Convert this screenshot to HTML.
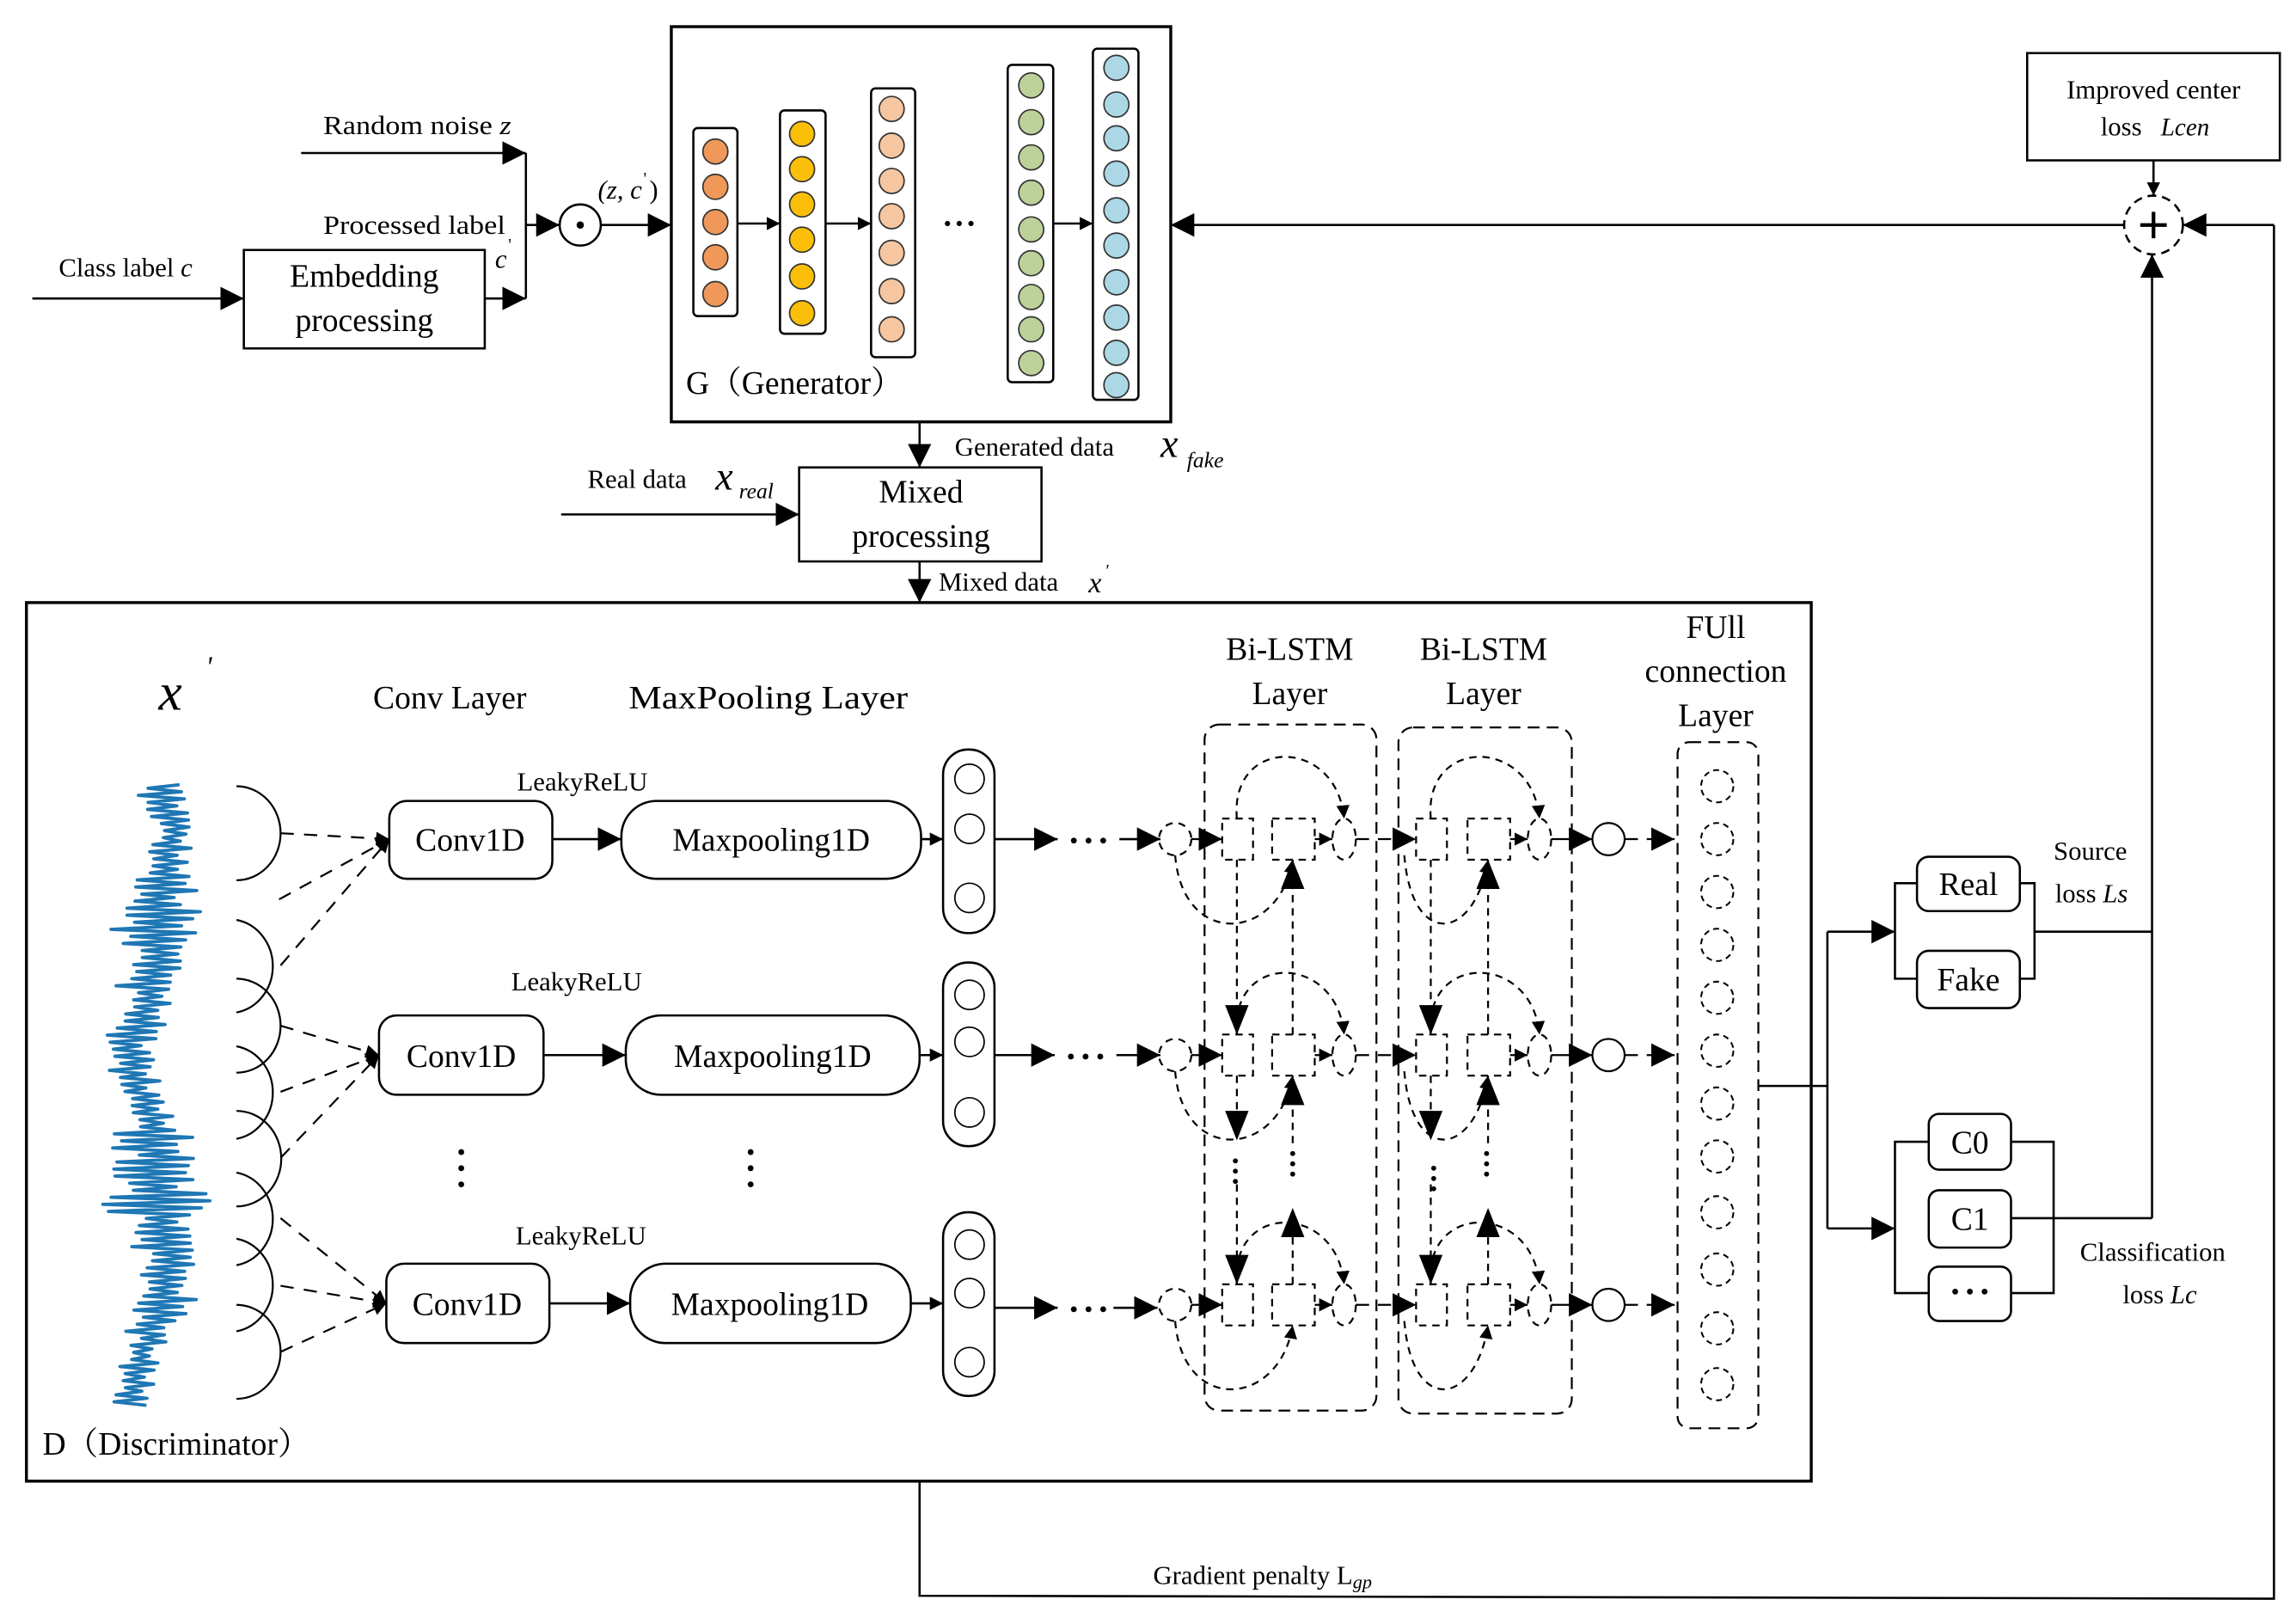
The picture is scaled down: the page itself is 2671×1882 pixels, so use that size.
<!DOCTYPE html>
<html><head><meta charset="utf-8"><style>
html,body{margin:0;padding:0;background:#fff}
svg{display:block}
text{font-family:"Liberation Serif","Noto Serif CJK SC",serif;fill:#000}
</style></head><body>
<svg width="2671" height="1882" viewBox="0 0 1563 1101" xmlns="http://www.w3.org/2000/svg">
<defs>
<marker id="a" viewBox="0 0 10 10" refX="10" refY="5" markerWidth="9" markerHeight="9" markerUnits="userSpaceOnUse" orient="auto"><path d="M0,0L10,5L0,10z" fill="#000"/></marker>
<marker id="b" viewBox="0 0 10 10" refX="10" refY="5" markerWidth="16" markerHeight="16" markerUnits="userSpaceOnUse" orient="auto"><path d="M0,0L10,5L0,10z" fill="#000"/></marker>
<marker id="c" viewBox="0 0 10 10" refX="10" refY="5" markerWidth="20" markerHeight="20" markerUnits="userSpaceOnUse" orient="auto"><path d="M0,1L10,5L0,9z" fill="#000"/></marker>
</defs>
<g fill="none" stroke="#000" stroke-width="1.5">
<line x1="205" y1="104" x2="358" y2="104" marker-end="url(#b)"/>
<line x1="358" y1="104" x2="358" y2="203"/>
<line x1="22" y1="203" x2="166" y2="203" marker-end="url(#b)"/>
<rect x="166" y="170" width="164" height="67"/>
<line x1="330" y1="203" x2="358" y2="203" marker-end="url(#b)"/>
<line x1="358" y1="153" x2="381" y2="153" marker-end="url(#b)"/>
<circle cx="395" cy="153" r="14"/>
<line x1="409" y1="153" x2="457" y2="153" marker-end="url(#b)"/>
<rect x="457" y="18" width="340" height="269" stroke-width="2"/>
<rect x="472" y="87" width="30" height="128" rx="3"/>
<rect x="531" y="75" width="31" height="152" rx="3"/>
<rect x="593" y="60" width="30" height="183" rx="3"/>
<rect x="686" y="44" width="31" height="216" rx="3"/>
<rect x="744" y="33" width="31" height="239" rx="3"/>
<line x1="502" y1="152" x2="531" y2="152" marker-end="url(#a)"/>
<line x1="562" y1="152" x2="593" y2="152" marker-end="url(#a)"/>
<line x1="717" y1="152" x2="744" y2="152" marker-end="url(#a)"/>
</g>
<g stroke="#333" stroke-width="1">
<g fill="#f0985a"><circle cx="487" cy="103" r="8.5"/><circle cx="487" cy="127" r="8.5"/><circle cx="487" cy="151" r="8.5"/><circle cx="487" cy="175" r="8.5"/><circle cx="487" cy="200" r="8.5"/></g>
<g fill="#fbbf0a"><circle cx="546" cy="91" r="8.5"/><circle cx="546" cy="115" r="8.5"/><circle cx="546" cy="139" r="8.5"/><circle cx="546" cy="163" r="8.5"/><circle cx="546" cy="188" r="8.5"/><circle cx="546" cy="213" r="8.5"/></g>
<g fill="#f6c6a0"><circle cx="607" cy="74" r="8.5"/><circle cx="607" cy="99" r="8.5"/><circle cx="607" cy="123" r="8.5"/><circle cx="607" cy="147" r="8.5"/><circle cx="607" cy="172" r="8.5"/><circle cx="607" cy="198" r="8.5"/><circle cx="607" cy="224" r="8.5"/></g>
<g fill="#bdd19a"><circle cx="702" cy="58" r="8.5"/><circle cx="702" cy="83" r="8.5"/><circle cx="702" cy="107" r="8.5"/><circle cx="702" cy="131" r="8.5"/><circle cx="702" cy="156" r="8.5"/><circle cx="702" cy="179" r="8.5"/><circle cx="702" cy="202" r="8.5"/><circle cx="702" cy="224" r="8.5"/><circle cx="702" cy="247" r="8.5"/></g>
<g fill="#acd8e6"><circle cx="760" cy="46" r="8.5"/><circle cx="760" cy="71" r="8.5"/><circle cx="760" cy="94" r="8.5"/><circle cx="760" cy="118" r="8.5"/><circle cx="760" cy="143" r="8.5"/><circle cx="760" cy="167" r="8.5"/><circle cx="760" cy="192" r="8.5"/><circle cx="760" cy="216" r="8.5"/><circle cx="760" cy="240" r="8.5"/><circle cx="760" cy="262" r="8.5"/></g>
</g>
<circle cx="395" cy="153" r="2.5" fill="#000"/>
<g fill="none" stroke="#000" stroke-width="1.5">
<line x1="626" y1="287" x2="626" y2="318" marker-end="url(#b)"/>
<line x1="382" y1="350" x2="544" y2="350" marker-end="url(#b)"/>
<rect x="544" y="318" width="165" height="64"/>
<line x1="626" y1="382" x2="626" y2="410" marker-end="url(#b)"/>
<rect x="1380" y="36" width="172" height="73"/>
<line x1="1466" y1="109" x2="1466" y2="133" marker-end="url(#a)"/>
<circle cx="1466" cy="153" r="20" stroke-dasharray="6,4"/>
<path d="M1457,153H1475M1466,144V162" stroke-width="2.5"/>
<line x1="1446" y1="153" x2="797" y2="153" marker-end="url(#b)"/>
<line x1="1548" y1="153" x2="1486" y2="153" marker-end="url(#b)"/>
<polyline points="626,1008 626,1086 1548,1088 1548,153"/>
<line x1="1465" y1="829" x2="1465" y2="173" marker-end="url(#b)"/>
<rect x="18" y="410" width="1215" height="598" stroke-width="2"/>
<polyline points="1197,739 1244,739"/>
<line x1="1244" y1="634" x2="1244" y2="836"/>
<line x1="1244" y1="634" x2="1290" y2="634" marker-end="url(#b)"/>
<line x1="1244" y1="836" x2="1290" y2="836" marker-end="url(#b)"/>
<polyline points="1305,601 1290,601 1290,666 1305,666"/>
<polyline points="1375,601 1385,601 1385,666 1375,666"/>
<line x1="1385" y1="634" x2="1465" y2="634"/>
<rect x="1305" y="583" width="70" height="37" rx="8"/>
<rect x="1305" y="647" width="70" height="39" rx="8"/>
<polyline points="1313,777 1290,777 1290,880 1313,880"/>
<polyline points="1369,777 1398,777 1398,880 1369,880"/>
<line x1="1369" y1="829" x2="1465" y2="829"/>
<rect x="1313" y="758" width="56" height="38" rx="7"/>
<rect x="1313" y="810" width="56" height="39" rx="7"/>
<rect x="1313" y="862" width="56" height="37" rx="7"/>
<g stroke-width="1.3">
<path d="M161,535 A30,32 0 0 1 161,599"/>
<path d="M161,626 A30,32 0 0 1 161,689"/>
<path d="M161,666 A30,32 0 0 1 161,730"/>
<path d="M161,712 A30,32 0 0 1 161,775"/>
<path d="M161,756 A30,32 0 0 1 161,821"/>
<path d="M161,798 A30,32 0 0 1 161,861"/>
<path d="M161,843 A30,32 0 0 1 161,906"/>
<path d="M161,888 A30,32 0 0 1 161,952"/>
</g>
<g stroke-dasharray="9,7" stroke-width="1.3">
<line x1="191" y1="567" x2="265" y2="571" marker-end="url(#a)"/>
<line x1="190" y1="612" x2="265" y2="571" marker-end="url(#a)"/>
<line x1="191" y1="657" x2="265" y2="571" marker-end="url(#a)"/>
<line x1="191" y1="698" x2="258" y2="718" marker-end="url(#a)"/>
<line x1="191" y1="743" x2="258" y2="718" marker-end="url(#a)"/>
<line x1="191" y1="788" x2="258" y2="718" marker-end="url(#a)"/>
<line x1="191" y1="829" x2="263" y2="887" marker-end="url(#a)"/>
<line x1="191" y1="875" x2="263" y2="887" marker-end="url(#a)"/>
<line x1="191" y1="920" x2="263" y2="887" marker-end="url(#a)"/>
</g>
<rect x="265" y="545" width="111" height="53" rx="12"/>
<rect x="258" y="691" width="112" height="54" rx="12"/>
<rect x="263" y="860" width="111" height="54" rx="12"/>
<line x1="376" y1="571" x2="423" y2="571" marker-end="url(#b)"/>
<line x1="370" y1="718" x2="426" y2="718" marker-end="url(#b)"/>
<line x1="374" y1="887" x2="429" y2="887" marker-end="url(#b)"/>
<rect x="423" y="545" width="204" height="53" rx="24"/>
<rect x="426" y="691" width="200" height="54" rx="24"/>
<rect x="429" y="860" width="191" height="54" rx="24"/>
<line x1="627" y1="571" x2="642" y2="571" marker-end="url(#a)"/>
<line x1="626" y1="718" x2="642" y2="718" marker-end="url(#a)"/>
<line x1="620" y1="887" x2="642" y2="887" marker-end="url(#a)"/>
<rect x="642" y="510" width="35" height="125" rx="17"/>
<rect x="642" y="655" width="35" height="125" rx="17"/>
<rect x="642" y="825" width="35" height="125" rx="17"/>
<circle cx="660" cy="530" r="10" stroke-width="1"/><circle cx="660" cy="564" r="10" stroke-width="1"/><circle cx="660" cy="611" r="10" stroke-width="1"/>
<circle cx="660" cy="677" r="10" stroke-width="1"/><circle cx="660" cy="709" r="10" stroke-width="1"/><circle cx="660" cy="757" r="10" stroke-width="1"/>
<circle cx="660" cy="847" r="10" stroke-width="1"/><circle cx="660" cy="880" r="10" stroke-width="1"/><circle cx="660" cy="927" r="10" stroke-width="1"/>
<line x1="677" y1="571" x2="720" y2="571" marker-end="url(#b)"/>
<line x1="677" y1="718" x2="718" y2="718" marker-end="url(#b)"/>
<line x1="677" y1="890" x2="720" y2="890" marker-end="url(#b)"/>
<line x1="762" y1="571" x2="790" y2="571" marker-end="url(#b)"/>
<line x1="760" y1="718" x2="790" y2="718" marker-end="url(#b)"/>
<line x1="758" y1="890" x2="788" y2="890" marker-end="url(#b)"/>
<g stroke-dasharray="8,5" stroke-width="1.3">
<rect x="820" y="493" width="117" height="467" rx="10"/>
<rect x="952" y="495" width="118" height="467" rx="10"/>
<rect x="1142" y="505" width="55" height="467" rx="8"/>
</g>
</g>
<g id="rows" fill="none" stroke="#000" stroke-width="1.3"></g>
<g fill="none" stroke="#000" stroke-width="1.2" stroke-dasharray="4,3">
<circle cx="1169" cy="535" r="11"/><circle cx="1169" cy="571" r="11"/><circle cx="1169" cy="607" r="11"/><circle cx="1169" cy="643" r="11"/><circle cx="1169" cy="679" r="11"/><circle cx="1169" cy="715" r="11"/><circle cx="1169" cy="751" r="11"/><circle cx="1169" cy="787" r="11"/><circle cx="1169" cy="825" r="11"/><circle cx="1169" cy="864" r="11"/><circle cx="1169" cy="904" r="11"/><circle cx="1169" cy="942" r="11"/>
</g>
<polyline id="wave" fill="none" stroke="#1f77b4" stroke-width="2.2" stroke-linejoin="round" points=""/>
<g fill="#000">
<circle cx="645" cy="152" r="1.8"/><circle cx="653" cy="152" r="1.8"/><circle cx="661" cy="152" r="1.8"/>
<circle cx="731" cy="572" r="2"/><circle cx="741" cy="572" r="2"/><circle cx="751" cy="572" r="2"/>
<circle cx="729" cy="719" r="2"/><circle cx="739" cy="719" r="2"/><circle cx="749" cy="719" r="2"/>
<circle cx="731" cy="891" r="2"/><circle cx="741" cy="891" r="2"/><circle cx="751" cy="891" r="2"/>
<circle cx="314" cy="784" r="2"/><circle cx="314" cy="795" r="2"/><circle cx="314" cy="806" r="2"/>
<circle cx="511" cy="784" r="2"/><circle cx="511" cy="795" r="2"/><circle cx="511" cy="806" r="2"/>
<circle cx="841" cy="790" r="1.7"/><circle cx="841" cy="797" r="1.7"/><circle cx="841" cy="804" r="1.7"/>
<circle cx="880" cy="785" r="1.7"/><circle cx="880" cy="792" r="1.7"/><circle cx="880" cy="799" r="1.7"/>
<circle cx="976" cy="795" r="1.7"/><circle cx="976" cy="802" r="1.7"/><circle cx="976" cy="809" r="1.7"/>
<circle cx="1012" cy="785" r="1.7"/><circle cx="1012" cy="792" r="1.7"/><circle cx="1012" cy="799" r="1.7"/>
<circle cx="1331" cy="879" r="2"/><circle cx="1341" cy="879" r="2"/><circle cx="1351" cy="879" r="2"/>
</g>
<g font-size="18">
<text x="220" y="91" textLength="128" lengthAdjust="spacingAndGlyphs">Random noise <tspan font-style="italic">z</tspan></text>
<text x="220" y="159" textLength="124" lengthAdjust="spacingAndGlyphs">Processed label</text>
<text x="337" y="182" font-style="italic">c</text><text x="346" y="170" font-size="12">'</text>
<text x="40" y="188">Class label <tspan font-style="italic">c</tspan></text>
<text x="407" y="135" font-style="italic">(z, c</text><text x="438" y="125" font-size="12">'</text><text x="442" y="135">)</text>
<text x="650" y="310">Generated data</text>
<text x="400" y="332">Real data</text>
<text x="639" y="402">Mixed data</text>
<text x="785" y="1078">Gradient penalty L<tspan font-size="13" font-style="italic" dy="3">gp</tspan></text>
<text x="1466" y="67" text-anchor="middle">Improved center</text>
<text x="1430" y="92">loss</text><text x="1471" y="92" font-style="italic" font-size="17">Lcen</text>
<text x="1398" y="585">Source</text>
<text x="1399" y="614">loss <tspan font-style="italic">Ls</tspan></text>
<text x="1416" y="858">Classification</text>
<text x="1445" y="887">loss <tspan font-style="italic">Lc</tspan></text>
<text x="352" y="538">LeakyReLU</text>
<text x="348" y="674">LeakyReLU</text>
<text x="351" y="847">LeakyReLU</text>
</g>
<g font-size="27" font-style="italic">
<text x="790" y="311">x</text><text x="808" y="318" font-size="15">fake</text>
<text x="487" y="333">x</text><text x="503" y="339" font-size="15">real</text>
<text x="741" y="403" font-size="20">x</text><text x="752" y="392" font-size="12">'</text>
<text x="108" y="483" font-size="36">x</text><text x="140" y="460" font-size="20">'</text>
</g>
<g font-size="22">
<text x="248" y="195" text-anchor="middle">Embedding</text>
<text x="248" y="225" text-anchor="middle">processing</text>
<text x="627" y="342" text-anchor="middle">Mixed</text>
<text x="627" y="372" text-anchor="middle">processing</text>
<text x="467" y="268">G（Generator）</text>
<text x="254" y="482">Conv Layer</text>
<text x="428" y="482" textLength="190" lengthAdjust="spacingAndGlyphs">MaxPooling Layer</text>
<text x="878" y="449" text-anchor="middle">Bi-LSTM</text>
<text x="878" y="479" text-anchor="middle">Layer</text>
<text x="1010" y="449" text-anchor="middle">Bi-LSTM</text>
<text x="1010" y="479" text-anchor="middle">Layer</text>
<text x="1168" y="434" text-anchor="middle">FUll</text>
<text x="1168" y="464" text-anchor="middle">connection</text>
<text x="1168" y="494" text-anchor="middle">Layer</text>
<text x="29" y="990">D（Discriminator）</text>
<text x="320" y="579" text-anchor="middle">Conv1D</text>
<text x="314" y="726" text-anchor="middle">Conv1D</text>
<text x="318" y="895" text-anchor="middle">Conv1D</text>
<text x="525" y="579" text-anchor="middle">Maxpooling1D</text>
<text x="526" y="726" text-anchor="middle">Maxpooling1D</text>
<text x="524" y="895" text-anchor="middle">Maxpooling1D</text>
<text x="1340" y="609" text-anchor="middle">Real</text>
<text x="1340" y="674" text-anchor="middle">Fake</text>
<text x="1341" y="785" text-anchor="middle">C0</text>
<text x="1341" y="837" text-anchor="middle">C1</text>
</g>
<script>
(function(){
var NS="http://www.w3.org/2000/svg",g=document.getElementById("rows");
function el(n,a){var e=document.createElementNS(NS,n);for(var k in a)e.setAttribute(k,a[k]);g.appendChild(e);return e;}
var D="5,4";
var ys=[571,718,888];
ys.forEach(function(y,i){
 el("ellipse",{cx:800,cy:y,rx:11,ry:11,"stroke-dasharray":D});
 el("line",{x1:811,y1:y,x2:832,y2:y,"marker-end":"url(#b)"});
 [[832,866,915],[964,999,1048]].forEach(function(p,j){
  el("rect",{x:p[0],y:y-14,width:21,height:28,"stroke-dasharray":D});
  el("rect",{x:p[1],y:y-14,width:29,height:28,"stroke-dasharray":D});
  el("line",{x1:p[1]+29,y1:y,x2:p[2]-8,y2:y,"marker-end":"url(#a)"});
  el("ellipse",{cx:p[2],cy:y,rx:8,ry:14,"stroke-dasharray":D});
  el("path",{d:"M"+(p[0]+10)+","+(y-14)+" C"+(p[0]+5)+","+(y-70)+" "+(p[2]-5)+","+(y-70)+" "+p[2]+","+(y-14),"stroke-dasharray":D,"marker-end":"url(#a)"});
  var sx=j==0?800:p[2]-92;
  el("path",{d:"M"+sx+","+(y+11)+" C"+(sx+5)+","+(y+75)+" "+(p[1]+5)+","+(y+70)+" "+(p[1]+14)+","+(y+14),"stroke-dasharray":D,"marker-end":"url(#a)"});
  if(i<2){
   var ny=ys[i+1];
   el("line",{x1:p[0]+10,y1:y+14,x2:p[0]+10,y2:(i==0?ny-14:y+58),"stroke-dasharray":D,"marker-end":"url(#c)"});
   el("line",{x1:p[1]+14,y1:(i==0?ny-14:y+60),x2:p[1]+14,y2:y+14,"stroke-dasharray":D,"marker-end":"url(#c)"});
  } else {
   el("line",{x1:p[0]+10,y1:y-82,x2:p[0]+10,y2:y-14,"stroke-dasharray":D,"marker-end":"url(#c)"});
   el("line",{x1:p[1]+14,y1:y-14,x2:p[1]+14,y2:y-66,"stroke-dasharray":D,"marker-end":"url(#c)"});
  }
 });
 el("line",{x1:923,y1:y,x2:964,y2:y,"stroke-dasharray":"9,6","marker-end":"url(#b)"});
 el("line",{x1:1056,y1:y,x2:1084,y2:y,"marker-end":"url(#b)"});
 el("circle",{cx:1095,cy:y,r:11});
 el("line",{x1:1106,y1:y,x2:1140,y2:y,"stroke-dasharray":"9,6","marker-end":"url(#b)"});
});
var s=12345;function r(){s=(s*1103515245+12345)%2147483648;return s/2147483648;}
var pts=[],side=1;
for(var y=534;y<=958;y+=2.4){
 var c=104+10*Math.sin(y/41)+4*Math.sin(y/17);
 var amp=11+9*Math.abs(Math.sin(y/60))+(y>600&&y<640?8:0)+(y>770&&y<830?14:0);
 var x=c+side*amp*(0.3+0.9*r());
 pts.push(x.toFixed(1)+","+y.toFixed(1));side=-side;
}
document.getElementById("wave").setAttribute("points",pts.join(" "));
})();
</script>
</svg>
</body></html>
